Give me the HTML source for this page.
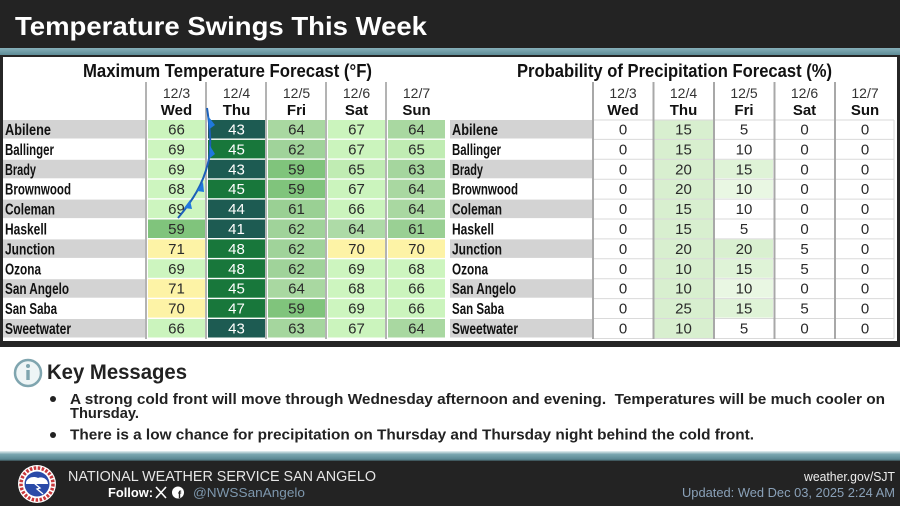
<!DOCTYPE html>
<html><head><meta charset="utf-8"><style>
html,body{margin:0;padding:0;background:#fff;}
svg{display:block;}
text{font-family:"Liberation Sans",sans-serif;}
.n{font-size:15px;fill:#2a2a2a;text-anchor:middle;}
.w{font-size:15px;fill:#ffffff;text-anchor:middle;}
.nm{font-size:16px;font-weight:bold;fill:#111;}
.dt{font-size:14px;fill:#333;text-anchor:middle;}
.dy{font-size:15px;font-weight:bold;fill:#111;text-anchor:middle;}
</style></head><body>
<svg width="900" height="506" viewBox="0 0 900 506" xmlns="http://www.w3.org/2000/svg">
<defs>
<linearGradient id="tb" x1="0" y1="0" x2="0" y2="1"><stop offset="0" stop-color="#86b0b9"/><stop offset="1" stop-color="#5e8c97"/></linearGradient>
<linearGradient id="tb2" x1="0" y1="0" x2="0" y2="1"><stop offset="0" stop-color="#e8f1f3"/><stop offset="0.3" stop-color="#7aa6b0"/><stop offset="0.75" stop-color="#5a8893"/><stop offset="1" stop-color="#232323"/></linearGradient>
</defs>
<!-- header -->
<rect x="0" y="0" width="900" height="48" fill="#232323"/>
<text x="15" y="35" font-size="26" font-weight="bold" fill="#fff" textLength="412" lengthAdjust="spacingAndGlyphs">Temperature Swings This Week</text>
<rect x="0" y="48" width="900" height="7" fill="url(#tb)"/>
<!-- chart frame -->
<rect x="0" y="55" width="900" height="292" fill="#262626"/>
<rect x="3" y="57" width="894" height="284" fill="#ffffff"/>

<!-- TEMP TABLE -->
<text x="83" y="77" font-size="18" font-weight="bold" fill="#111" textLength="289" lengthAdjust="spacingAndGlyphs">Maximum Temperature Forecast (°F)</text>
<text class="dt" x="176.5" y="98">12/3</text><text class="dt" x="236.5" y="98">12/4</text><text class="dt" x="296.5" y="98">12/5</text><text class="dt" x="356.5" y="98">12/6</text><text class="dt" x="416.5" y="98">12/7</text>
<text class="dy" x="176.5" y="115">Wed</text><text class="dy" x="236.5" y="115">Thu</text><text class="dy" x="296.5" y="115">Fri</text><text class="dy" x="356.5" y="115">Sat</text><text class="dy" x="416.5" y="115">Sun</text>

<!-- name backgrounds -->
<g fill="#d3d3d3">
<rect x="3" y="120" width="142" height="18.5"/>
<rect x="3" y="159.8" width="142" height="18.5"/>
<rect x="3" y="199.6" width="142" height="18.5"/>
<rect x="3" y="239.4" width="142" height="18.5"/>
<rect x="3" y="279.2" width="142" height="18.5"/>
<rect x="3" y="319" width="142" height="18.5"/>
</g>
<!-- separators -->
<g fill="#b3b3b3">
<rect x="145" y="82" width="2" height="257"/>
<rect x="205" y="82" width="2" height="257"/>
<rect x="265" y="82" width="2" height="257"/>
<rect x="325" y="82" width="2" height="257"/>
<rect x="385" y="82" width="2" height="257"/>
</g>
<!-- temp cells -->
<rect x="148" y="120" width="57" height="18.5" fill="#cbf4bd"/><rect x="208" y="120" width="57" height="18.5" fill="#1d5b52"/><rect x="268" y="120" width="57" height="18.5" fill="#a9d8a1"/><rect x="328" y="120" width="57" height="18.5" fill="#cbf4bd"/><rect x="388" y="120" width="57" height="18.5" fill="#a9d8a1"/>
<rect x="148" y="139.9" width="57" height="18.5" fill="#cdf5bf"/><rect x="208" y="139.9" width="57" height="18.5" fill="#18773b"/><rect x="268" y="139.9" width="57" height="18.5" fill="#a0d39a"/><rect x="328" y="139.9" width="57" height="18.5" fill="#cbf4bd"/><rect x="388" y="139.9" width="57" height="18.5" fill="#c0ecb3"/>
<rect x="148" y="159.8" width="57" height="18.5" fill="#cdf5bf"/><rect x="208" y="159.8" width="57" height="18.5" fill="#1d5b52"/><rect x="268" y="159.8" width="57" height="18.5" fill="#80c47c"/><rect x="328" y="159.8" width="57" height="18.5" fill="#c0ecb3"/><rect x="388" y="159.8" width="57" height="18.5" fill="#a5d69e"/>
<rect x="148" y="179.7" width="57" height="18.5" fill="#cdf5bf"/><rect x="208" y="179.7" width="57" height="18.5" fill="#18773b"/><rect x="268" y="179.7" width="57" height="18.5" fill="#80c47c"/><rect x="328" y="179.7" width="57" height="18.5" fill="#cbf4bd"/><rect x="388" y="179.7" width="57" height="18.5" fill="#a9d8a1"/>
<rect x="148" y="199.6" width="57" height="18.5" fill="#cdf5bf"/><rect x="208" y="199.6" width="57" height="18.5" fill="#1d5b52"/><rect x="268" y="199.6" width="57" height="18.5" fill="#9ad094"/><rect x="328" y="199.6" width="57" height="18.5" fill="#cbf4bd"/><rect x="388" y="199.6" width="57" height="18.5" fill="#a9d8a1"/>
<rect x="148" y="219.5" width="57" height="18.5" fill="#80c47c"/><rect x="208" y="219.5" width="57" height="18.5" fill="#1d5b52"/><rect x="268" y="219.5" width="57" height="18.5" fill="#a0d39a"/><rect x="328" y="219.5" width="57" height="18.5" fill="#aedba7"/><rect x="388" y="219.5" width="57" height="18.5" fill="#9ad094"/>
<rect x="148" y="239.4" width="57" height="18.5" fill="#fdf3a6"/><rect x="208" y="239.4" width="57" height="18.5" fill="#18773b"/><rect x="268" y="239.4" width="57" height="18.5" fill="#a0d39a"/><rect x="328" y="239.4" width="57" height="18.5" fill="#fdf3a6"/><rect x="388" y="239.4" width="57" height="18.5" fill="#fdf3a6"/>
<rect x="148" y="259.3" width="57" height="18.5" fill="#cdf5bf"/><rect x="208" y="259.3" width="57" height="18.5" fill="#18773b"/><rect x="268" y="259.3" width="57" height="18.5" fill="#a0d39a"/><rect x="328" y="259.3" width="57" height="18.5" fill="#cdf5bf"/><rect x="388" y="259.3" width="57" height="18.5" fill="#cdf5bf"/>
<rect x="148" y="279.2" width="57" height="18.5" fill="#fdf3a6"/><rect x="208" y="279.2" width="57" height="18.5" fill="#18773b"/><rect x="268" y="279.2" width="57" height="18.5" fill="#a9d8a1"/><rect x="328" y="279.2" width="57" height="18.5" fill="#cdf5bf"/><rect x="388" y="279.2" width="57" height="18.5" fill="#cbf4bd"/>
<rect x="148" y="299.1" width="57" height="18.5" fill="#fdf3a6"/><rect x="208" y="299.1" width="57" height="18.5" fill="#18773b"/><rect x="268" y="299.1" width="57" height="18.5" fill="#80c47c"/><rect x="328" y="299.1" width="57" height="18.5" fill="#cdf5bf"/><rect x="388" y="299.1" width="57" height="18.5" fill="#cbf4bd"/>
<rect x="148" y="319" width="57" height="18.5" fill="#cbf4bd"/><rect x="208" y="319" width="57" height="18.5" fill="#1d5b52"/><rect x="268" y="319" width="57" height="18.5" fill="#a5d69e"/><rect x="328" y="319" width="57" height="18.5" fill="#cbf4bd"/><rect x="388" y="319" width="57" height="18.5" fill="#a9d8a1"/>

<!-- names temp -->
<text class="nm" x="5" y="135" textLength="46" lengthAdjust="spacingAndGlyphs">Abilene</text>
<text class="nm" x="5" y="154.9" textLength="49" lengthAdjust="spacingAndGlyphs">Ballinger</text>
<text class="nm" x="5" y="174.8" textLength="31" lengthAdjust="spacingAndGlyphs">Brady</text>
<text class="nm" x="5" y="194.7" textLength="66" lengthAdjust="spacingAndGlyphs">Brownwood</text>
<text class="nm" x="5" y="214.6" textLength="50" lengthAdjust="spacingAndGlyphs">Coleman</text>
<text class="nm" x="5" y="234.5" textLength="42" lengthAdjust="spacingAndGlyphs">Haskell</text>
<text class="nm" x="5" y="254.4" textLength="50" lengthAdjust="spacingAndGlyphs">Junction</text>
<text class="nm" x="5" y="274.3" textLength="36" lengthAdjust="spacingAndGlyphs">Ozona</text>
<text class="nm" x="5" y="294.2" textLength="64" lengthAdjust="spacingAndGlyphs">San Angelo</text>
<text class="nm" x="5" y="314.1" textLength="52" lengthAdjust="spacingAndGlyphs">San Saba</text>
<text class="nm" x="5" y="334" textLength="66" lengthAdjust="spacingAndGlyphs">Sweetwater</text>

<!-- temp numbers -->
<text class="n" x="176.5" y="134.5">66</text><text class="w" x="236.5" y="134.5">43</text><text class="n" x="296.5" y="134.5">64</text><text class="n" x="356.5" y="134.5">67</text><text class="n" x="416.5" y="134.5">64</text>
<text class="n" x="176.5" y="154.4">69</text><text class="w" x="236.5" y="154.4">45</text><text class="n" x="296.5" y="154.4">62</text><text class="n" x="356.5" y="154.4">67</text><text class="n" x="416.5" y="154.4">65</text>
<text class="n" x="176.5" y="174.3">69</text><text class="w" x="236.5" y="174.3">43</text><text class="n" x="296.5" y="174.3">59</text><text class="n" x="356.5" y="174.3">65</text><text class="n" x="416.5" y="174.3">63</text>
<text class="n" x="176.5" y="194.2">68</text><text class="w" x="236.5" y="194.2">45</text><text class="n" x="296.5" y="194.2">59</text><text class="n" x="356.5" y="194.2">67</text><text class="n" x="416.5" y="194.2">64</text>
<text class="n" x="176.5" y="214.1">69</text><text class="w" x="236.5" y="214.1">44</text><text class="n" x="296.5" y="214.1">61</text><text class="n" x="356.5" y="214.1">66</text><text class="n" x="416.5" y="214.1">64</text>
<text class="n" x="176.5" y="234">59</text><text class="w" x="236.5" y="234">41</text><text class="n" x="296.5" y="234">62</text><text class="n" x="356.5" y="234">64</text><text class="n" x="416.5" y="234">61</text>
<text class="n" x="176.5" y="253.9">71</text><text class="w" x="236.5" y="253.9">48</text><text class="n" x="296.5" y="253.9">62</text><text class="n" x="356.5" y="253.9">70</text><text class="n" x="416.5" y="253.9">70</text>
<text class="n" x="176.5" y="273.8">69</text><text class="w" x="236.5" y="273.8">48</text><text class="n" x="296.5" y="273.8">62</text><text class="n" x="356.5" y="273.8">69</text><text class="n" x="416.5" y="273.8">68</text>
<text class="n" x="176.5" y="293.7">71</text><text class="w" x="236.5" y="293.7">45</text><text class="n" x="296.5" y="293.7">64</text><text class="n" x="356.5" y="293.7">68</text><text class="n" x="416.5" y="293.7">66</text>
<text class="n" x="176.5" y="313.6">70</text><text class="w" x="236.5" y="313.6">47</text><text class="n" x="296.5" y="313.6">59</text><text class="n" x="356.5" y="313.6">69</text><text class="n" x="416.5" y="313.6">66</text>
<text class="n" x="176.5" y="333.5">66</text><text class="w" x="236.5" y="333.5">43</text><text class="n" x="296.5" y="333.5">63</text><text class="n" x="356.5" y="333.5">67</text><text class="n" x="416.5" y="333.5">64</text>

<!-- cold front -->
<path d="M207,108 C210,128 212,148 208,163 C203,184 193,200 178,218" fill="none" stroke="#1c5fb8" stroke-width="2"/>
<g fill="#1f78de">
<polygon points="208,116 209.5,129 215,125"/>
<polygon points="209.5,145 210,158 215,154"/>
<polygon points="203,182 197,191 204,192"/>
<polygon points="190,200 184,208 192,209"/>
</g>

<!-- PRECIP TABLE -->
<text x="517" y="77" font-size="18" font-weight="bold" fill="#111" textLength="315" lengthAdjust="spacingAndGlyphs">Probability of Precipitation Forecast (%)</text>
<text class="dt" x="623" y="98">12/3</text><text class="dt" x="683.5" y="98">12/4</text><text class="dt" x="744" y="98">12/5</text><text class="dt" x="804.5" y="98">12/6</text><text class="dt" x="865" y="98">12/7</text>
<text class="dy" x="623" y="115">Wed</text><text class="dy" x="683.5" y="115">Thu</text><text class="dy" x="744" y="115">Fri</text><text class="dy" x="804.5" y="115">Sat</text><text class="dy" x="865" y="115">Sun</text>

<g fill="#d3d3d3">
<rect x="450" y="120" width="142" height="18.5"/>
<rect x="450" y="159.8" width="142" height="18.5"/>
<rect x="450" y="199.6" width="142" height="18.5"/>
<rect x="450" y="239.4" width="142" height="18.5"/>
<rect x="450" y="279.2" width="142" height="18.5"/>
<rect x="450" y="319" width="142" height="18.5"/>
</g>
<rect x="654" y="120" width="59" height="218.5" fill="#d8efcf"/>
<rect x="715" y="159.8" width="58" height="18.5" fill="#dff3d7"/>
<rect x="715" y="179.7" width="58" height="18.5" fill="#e9f7e3"/>
<rect x="715" y="239.4" width="58" height="18.5" fill="#d9f0d0"/>
<rect x="715" y="259.3" width="58" height="18.5" fill="#dff3d7"/>
<rect x="715" y="279.2" width="58" height="18.5" fill="#e9f7e3"/>
<rect x="715" y="299.1" width="58" height="18.5" fill="#dff3d7"/>
<g stroke="#dadada" stroke-width="1">
<line x1="594" y1="120" x2="894" y2="120"/>
<line x1="594" y1="139.4" x2="894" y2="139.4"/>
<line x1="594" y1="159.3" x2="894" y2="159.3"/>
<line x1="594" y1="179.2" x2="894" y2="179.2"/>
<line x1="594" y1="199.1" x2="894" y2="199.1"/>
<line x1="594" y1="219" x2="894" y2="219"/>
<line x1="594" y1="238.9" x2="894" y2="238.9"/>
<line x1="594" y1="258.8" x2="894" y2="258.8"/>
<line x1="594" y1="278.7" x2="894" y2="278.7"/>
<line x1="594" y1="298.6" x2="894" y2="298.6"/>
<line x1="594" y1="318.5" x2="894" y2="318.5"/>
<line x1="594" y1="338.5" x2="894" y2="338.5"/>
<line x1="894" y1="120" x2="894" y2="338.5"/>
</g>
<g fill="#a8a8a8">
<rect x="592" y="82" width="2" height="257"/>
<rect x="652.5" y="82" width="2" height="257"/>
<rect x="713" y="82" width="2" height="257"/>
<rect x="773.5" y="82" width="2" height="257"/>
<rect x="834" y="82" width="2" height="257"/>
</g>

<text class="nm" x="452" y="135" textLength="46" lengthAdjust="spacingAndGlyphs">Abilene</text>
<text class="nm" x="452" y="154.9" textLength="49" lengthAdjust="spacingAndGlyphs">Ballinger</text>
<text class="nm" x="452" y="174.8" textLength="31" lengthAdjust="spacingAndGlyphs">Brady</text>
<text class="nm" x="452" y="194.7" textLength="66" lengthAdjust="spacingAndGlyphs">Brownwood</text>
<text class="nm" x="452" y="214.6" textLength="50" lengthAdjust="spacingAndGlyphs">Coleman</text>
<text class="nm" x="452" y="234.5" textLength="42" lengthAdjust="spacingAndGlyphs">Haskell</text>
<text class="nm" x="452" y="254.4" textLength="50" lengthAdjust="spacingAndGlyphs">Junction</text>
<text class="nm" x="452" y="274.3" textLength="36" lengthAdjust="spacingAndGlyphs">Ozona</text>
<text class="nm" x="452" y="294.2" textLength="64" lengthAdjust="spacingAndGlyphs">San Angelo</text>
<text class="nm" x="452" y="314.1" textLength="52" lengthAdjust="spacingAndGlyphs">San Saba</text>
<text class="nm" x="452" y="334" textLength="66" lengthAdjust="spacingAndGlyphs">Sweetwater</text>

<text class="n" x="623" y="134.5">0</text><text class="n" x="683.5" y="134.5">15</text><text class="n" x="744" y="134.5">5</text><text class="n" x="804.5" y="134.5">0</text><text class="n" x="865" y="134.5">0</text>
<text class="n" x="623" y="154.4">0</text><text class="n" x="683.5" y="154.4">15</text><text class="n" x="744" y="154.4">10</text><text class="n" x="804.5" y="154.4">0</text><text class="n" x="865" y="154.4">0</text>
<text class="n" x="623" y="174.3">0</text><text class="n" x="683.5" y="174.3">20</text><text class="n" x="744" y="174.3">15</text><text class="n" x="804.5" y="174.3">0</text><text class="n" x="865" y="174.3">0</text>
<text class="n" x="623" y="194.2">0</text><text class="n" x="683.5" y="194.2">20</text><text class="n" x="744" y="194.2">10</text><text class="n" x="804.5" y="194.2">0</text><text class="n" x="865" y="194.2">0</text>
<text class="n" x="623" y="214.1">0</text><text class="n" x="683.5" y="214.1">15</text><text class="n" x="744" y="214.1">10</text><text class="n" x="804.5" y="214.1">0</text><text class="n" x="865" y="214.1">0</text>
<text class="n" x="623" y="234">0</text><text class="n" x="683.5" y="234">15</text><text class="n" x="744" y="234">5</text><text class="n" x="804.5" y="234">0</text><text class="n" x="865" y="234">0</text>
<text class="n" x="623" y="253.9">0</text><text class="n" x="683.5" y="253.9">20</text><text class="n" x="744" y="253.9">20</text><text class="n" x="804.5" y="253.9">5</text><text class="n" x="865" y="253.9">0</text>
<text class="n" x="623" y="273.8">0</text><text class="n" x="683.5" y="273.8">10</text><text class="n" x="744" y="273.8">15</text><text class="n" x="804.5" y="273.8">5</text><text class="n" x="865" y="273.8">0</text>
<text class="n" x="623" y="293.7">0</text><text class="n" x="683.5" y="293.7">10</text><text class="n" x="744" y="293.7">10</text><text class="n" x="804.5" y="293.7">0</text><text class="n" x="865" y="293.7">0</text>
<text class="n" x="623" y="313.6">0</text><text class="n" x="683.5" y="313.6">25</text><text class="n" x="744" y="313.6">15</text><text class="n" x="804.5" y="313.6">5</text><text class="n" x="865" y="313.6">0</text>
<text class="n" x="623" y="333.5">0</text><text class="n" x="683.5" y="333.5">10</text><text class="n" x="744" y="333.5">5</text><text class="n" x="804.5" y="333.5">0</text><text class="n" x="865" y="333.5">0</text>

<!-- KEY MESSAGES -->
<rect x="0" y="347" width="900" height="106" fill="#ffffff"/>
<circle cx="28" cy="373" r="13" fill="#eef5f6" stroke="#7fa5af" stroke-width="2.5"/>
<circle cx="28" cy="366" r="2" fill="#7fa5af"/>
<rect x="26.3" y="370" width="3.4" height="10" fill="#7fa5af"/>
<text x="47" y="379" font-size="21" font-weight="bold" fill="#222" textLength="140" lengthAdjust="spacingAndGlyphs">Key Messages</text>
<circle cx="53" cy="399" r="3" fill="#222"/>
<text x="70" y="404" font-size="15" font-weight="bold" fill="#222" textLength="815" lengthAdjust="spacingAndGlyphs">A strong cold front will move through Wednesday afternoon and evening.&#160; Temperatures will be much cooler on</text>
<text x="70" y="418" font-size="15" font-weight="bold" fill="#222" textLength="69" lengthAdjust="spacingAndGlyphs">Thursday.</text>
<circle cx="53" cy="435" r="3" fill="#222"/>
<text x="70" y="439.5" font-size="15" font-weight="bold" fill="#222" textLength="684" lengthAdjust="spacingAndGlyphs">There is a low chance for precipitation on Thursday and Thursday night behind the cold front.</text>

<!-- FOOTER -->
<rect x="0" y="451" width="900" height="11" fill="url(#tb2)"/>
<rect x="0" y="461" width="900" height="45" fill="#232323"/>
<circle cx="37" cy="484" r="19" fill="#ffffff"/>
<circle cx="37" cy="484" r="16" fill="none" stroke="#c8383c" stroke-width="3.5" stroke-dasharray="2.5 1.5"/>
<circle cx="37" cy="484" r="12.5" fill="#2a4aa8"/>
<path d="M26,482 C28,477 34,476 38,478 C42,476 48,479 48,484 L26,484 Z" fill="#ffffff"/>
<path d="M34,483 L40,488 L37,489 L43,494" fill="none" stroke="#ffffff" stroke-width="1.3"/>
<text x="68" y="481" font-size="15" fill="#e6e6e6" textLength="308" lengthAdjust="spacingAndGlyphs">NATIONAL WEATHER SERVICE SAN ANGELO</text>
<text x="108" y="497" font-size="13" font-weight="bold" fill="#ffffff" textLength="45" lengthAdjust="spacingAndGlyphs">Follow:</text>
<g stroke="#ffffff" stroke-width="1.6">
<line x1="156" y1="487" x2="166" y2="498"/>
<line x1="166" y1="487" x2="156" y2="498"/>
</g>
<circle cx="178" cy="492.5" r="6" fill="#ffffff"/>
<text x="179.5" y="498" font-size="10" font-weight="bold" fill="#232323" text-anchor="middle">f</text>
<text x="193" y="497" font-size="13" fill="#7d97ad" textLength="112" lengthAdjust="spacingAndGlyphs">@NWSSanAngelo</text>
<text x="895" y="481" font-size="13" fill="#eeeeee" text-anchor="end" textLength="91" lengthAdjust="spacingAndGlyphs">weather.gov/SJT</text>
<text x="895" y="497" font-size="13" fill="#8aa1b8" text-anchor="end" textLength="213" lengthAdjust="spacingAndGlyphs">Updated: Wed Dec 03, 2025 2:24 AM</text>
</svg>
</body></html>
